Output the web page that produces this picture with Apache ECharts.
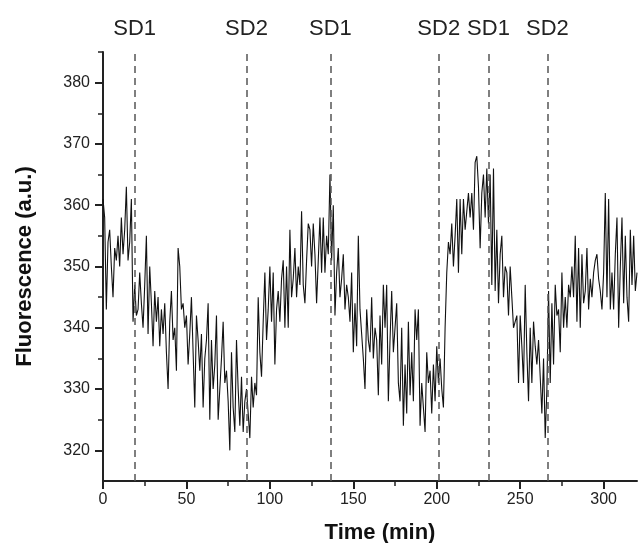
<!DOCTYPE html>
<html>
<head>
<meta charset="utf-8">
<script src="https://cdn.jsdelivr.net/npm/echarts@6/dist/echarts.min.js"></script>
<style>
html,body{margin:0;padding:0;background:#fff;}
#chart{width:638px;height:543px;}
</style>
</head>
<body>
<div id="chart"></div>
<script>
// Fluorescence trace, one sample per minute starting at t = 0
const fluorescence = [
361,358,343,354,356,350,345,353,351,355,350,358,352,356,363,351,354,361,341,347,
342,343,349,344,340,347,355,339,350,344,337,346,341,345,337,343,339,344,336,330,
341,346,338,340,333,353,350,343,344,340,342,334,339,345,336,327,342,338,333,339,
327,335,338,344,325,338,330,334,342,325,330,335,341,331,333,328,320,336,327,323,
338,330,324,332,323,328,330,326,322,332,327,331,329,345,336,332,341,349,338,343,
350,341,349,334,343,346,341,348,351,340,350,340,356,345,348,353,345,350,347,359,
347,344,351,357,356,350,357,352,344,351,358,349,358,349,355,352,365,351,360,342,
349,353,345,348,352,343,347,345,341,349,336,344,337,355,343,339,335,330,343,338,
336,345,335,340,338,329,342,334,347,340,347,328,338,346,336,340,344,331,328,340,
324,334,326,341,329,336,328,343,338,343,324,331,327,323,336,331,333,326,334,328,
337,331,335,330,327,340,349,354,352,357,350,355,361,349,361,352,361,356,359,362,
358,362,356,367,368,363,353,362,365,358,366,357,365,347,366,346,356,344,352,355,
345,350,349,342,350,345,340,341,342,331,342,337,331,347,336,328,340,331,341,337,
334,338,338,326,335,322,330,346,331,344,334,347,342,343,336,349,340,345,340,347,
345,350,345,355,341,353,340,352,344,346,353,343,348,345,349,351,352,348,346,343,
349,362,345,361,343,349,343,352,358,340,350,358,344,355,345,341,356,347,355,346,
349
];
const sampleStepMin = 1;
const eventTimes = [19, 86, 136.3, 201.2, 231, 266.3];
const eventLabels = ['SD1', 'SD2', 'SD1', 'SD2', 'SD1', 'SD2'];
const xMajorTicks = [0, 50, 100, 150, 200, 250, 300];
const xMinorTicks = [25, 75, 125, 175, 225, 275];
const yMajorTicks = [320, 330, 340, 350, 360, 370, 380];
const yMinorTicks = [325, 335, 345, 355, 365, 375, 385];

const seriesData = fluorescence.map((v, i) => [i * sampleStepMin, v]);
const FONT = '"Liberation Sans", Arial, sans-serif';
const AX = '#222';

const chart = echarts.init(document.getElementById('chart'), null, {renderer: 'canvas'});
chart.setOption({
  animation: false,
  backgroundColor: '#fff',
  grid: {left: 103, right: 1, top: 52, bottom: 62, containLabel: false, outerBoundsMode: 'none'},
  xAxis: [{
    type: 'value', min: 0, max: 320, position: 'bottom',
    name: 'Time (min)', nameLocation: 'middle', nameGap: 41,
    nameTextStyle: {fontFamily: FONT, fontSize: 22, fontWeight: 'bold', color: '#111', padding: [0, 0, 0, 20]},
    axisLine: {show: true, lineStyle: {color: AX, width: 2}},
    axisTick: {show: true, length: 8, lineStyle: {color: AX, width: 2}, customValues: xMajorTicks},
    axisLabel: {show: true, margin: 11, fontFamily: FONT, fontSize: 16, color: '#222', customValues: xMajorTicks},
    splitLine: {show: false}
  }, {
    type: 'value', min: 0, max: 320, position: 'bottom', offset: 0,
    axisLine: {show: false},
    axisTick: {show: true, length: 5, lineStyle: {color: AX, width: 1.5}, customValues: xMinorTicks},
    axisLabel: {show: false},
    splitLine: {show: false}
  }],
  yAxis: [{
    type: 'value', min: 315, max: 385, position: 'left',
    name: 'Fluorescence (a.u.)', nameLocation: 'middle', nameGap: 67, nameRotate: 90,
    nameTextStyle: {fontFamily: FONT, fontSize: 22, fontWeight: 'bold', color: '#111'},
    axisLine: {show: true, lineStyle: {color: AX, width: 2}},
    axisTick: {show: true, length: 8, lineStyle: {color: AX, width: 2}, customValues: yMajorTicks},
    axisLabel: {show: true, margin: 13, fontFamily: FONT, fontSize: 16, color: '#222', customValues: yMajorTicks},
    splitLine: {show: false}
  }, {
    type: 'value', min: 315, max: 385, position: 'left', offset: 0,
    axisLine: {show: false},
    axisTick: {show: true, length: 5, lineStyle: {color: AX, width: 1.5}, customValues: yMinorTicks},
    axisLabel: {show: false},
    splitLine: {show: false}
  }],
  series: [{
    type: 'line',
    xAxisIndex: 0, yAxisIndex: 0,
    data: seriesData,
    showSymbol: false,
    symbol: 'none',
    lineStyle: {color: '#111', width: 1.1},
    markLine: {
      silent: true,
      symbol: 'none',
      lineStyle: {color: '#555', width: 1.5, type: [7, 5]},
      label: {show: true, position: 'end', distance: 12, formatter: p => p.name,
              fontFamily: FONT, fontSize: 22, color: '#222'},
      data: eventTimes.map((t, i) => ({xAxis: t, name: eventLabels[i]}))
    }
  }]
});
</script>
</body>
</html>
